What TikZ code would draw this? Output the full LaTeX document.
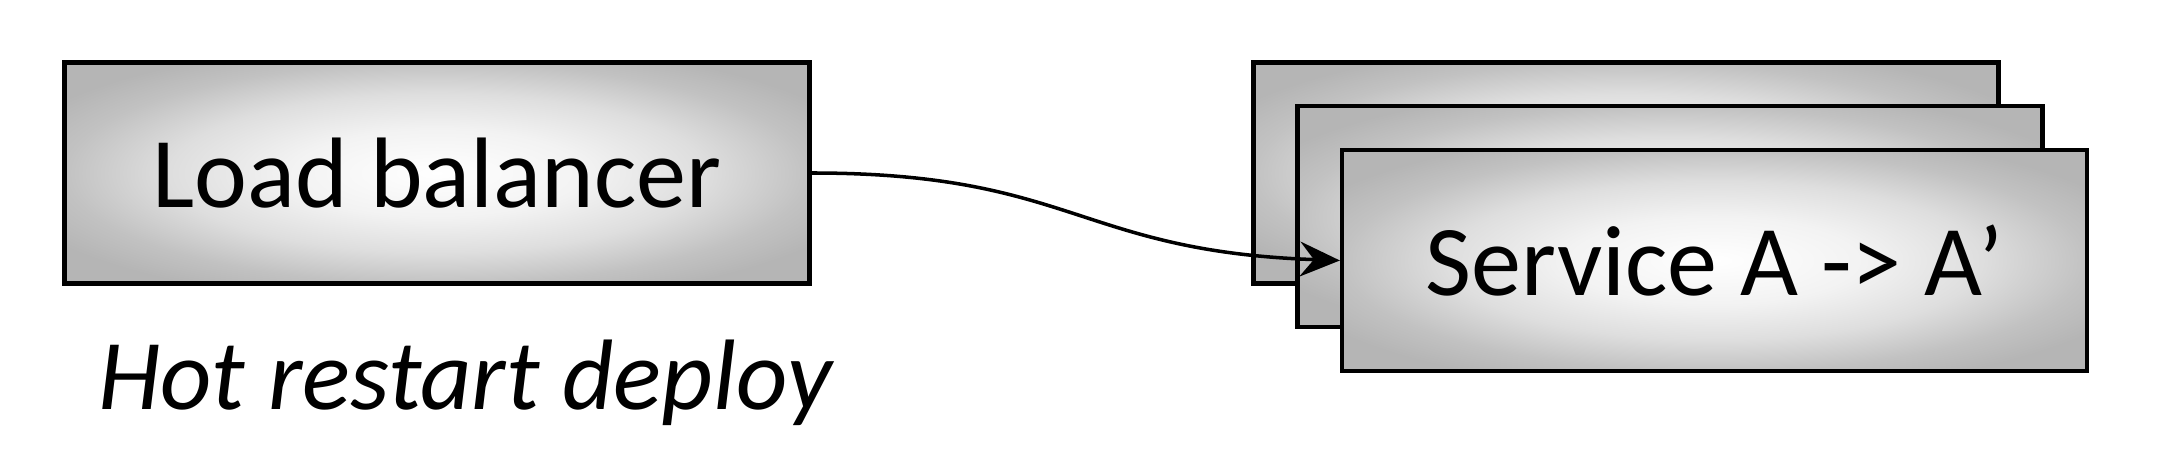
\documentclass[tikz,border=0pt]{standalone}
\usepackage{fontspec}
\setmainfont{Carlito}
\usetikzlibrary{arrows.meta}
\pgfdeclareradialshading{glow}{\pgfpoint{0bp}{0bp}}{color(0bp)=(white); color(10bp)=(black!5); color(18bp)=(black!13); color(25bp)=(black!24); color(30bp)=(black!29); color(50bp)=(black!29)}
\begin{document}
\begin{tikzpicture}[
box/.style={rectangle,draw,line width=2.4pt,shading=glow,minimum width=14.9cm,minimum height=4.42cm,font=\fontsize{57}{60}\selectfont},
link/.style={line width=2pt,-{Stealth[length=8mm,width=7mm,inset=2.8mm]}}
]
\useasboundingbox (0,0) rectangle (43.24,-9.16);
\node[box] (lb) at (8.74,-3.46) {Load balancer};
\node[box] (s1) at (32.52,-3.46) {};
\node[box] (s2) at (33.40,-4.33) {};
\node[box] (s3) at (34.29,-5.21) {Service A -> A’};
\node[anchor=base,font=\fontsize{57}{60}\selectfont\itshape] (cap) at (9.3,-8.2) {Hot restart deploy};
\draw[link] (lb.east) to[out=0,in=178,looseness=1.25] (s3.west);
\end{tikzpicture}
\end{document}
